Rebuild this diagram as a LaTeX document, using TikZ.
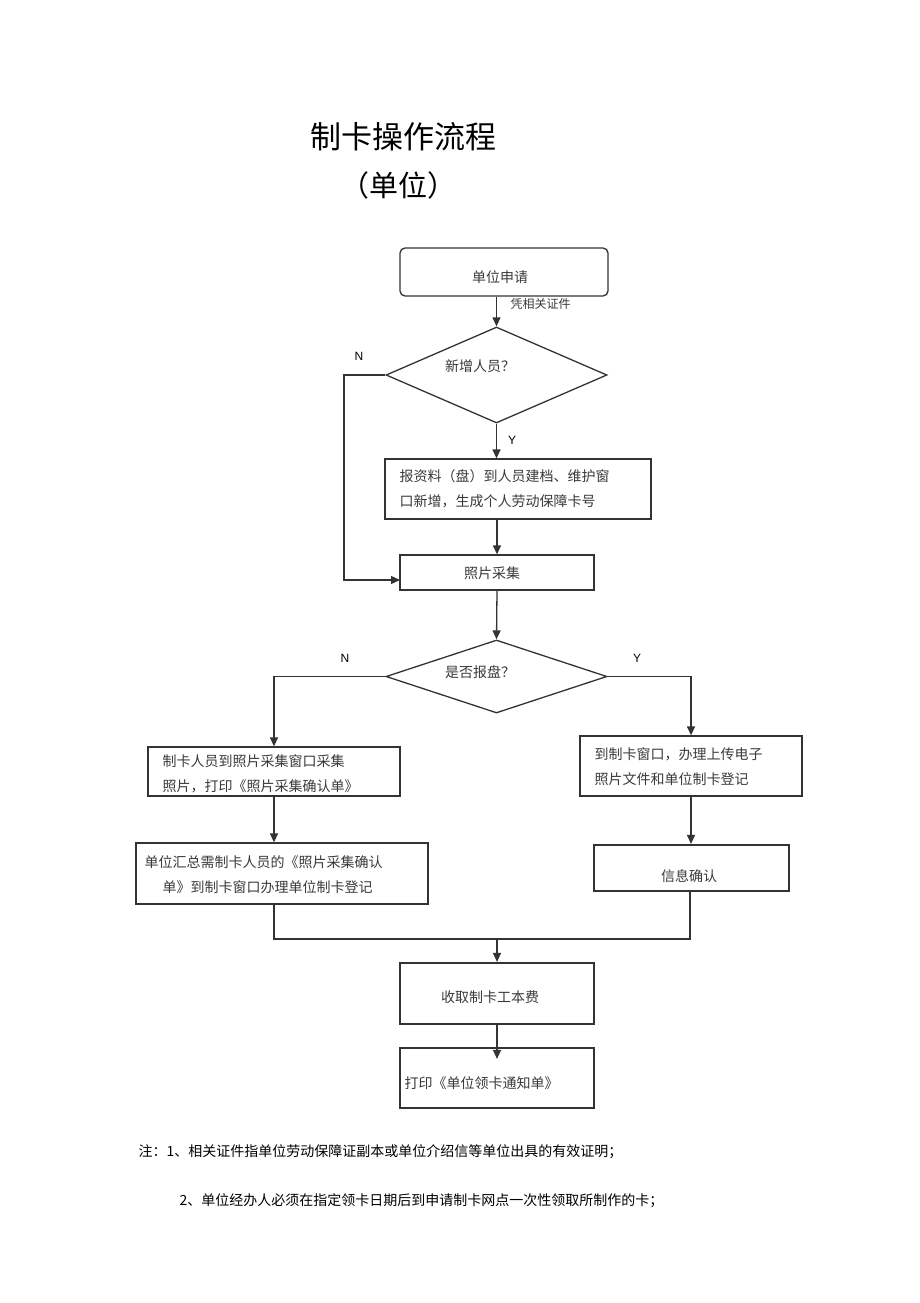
\documentclass[tikz,border=0pt]{standalone}
\usepackage{fontspec}
\usetikzlibrary{shapes.geometric,arrows.meta}
\newfontfamily\cjk{Noto Sans CJK SC}
\newfontfamily\lat{Liberation Sans}
\definecolor{ln}{HTML}{333333}
\definecolor{tx}{HTML}{3A3A3A}
\tikzset{
  every node/.style={font=\cjk},
  box/.style={draw=ln, line width=1.3pt, rectangle, inner sep=0pt},
  heavybox/.style={draw=ln, line width=2.2pt, rectangle, inner sep=0pt},
  dia/.style={draw=ln, line width=1.3pt, diamond, inner sep=0pt},
  btxt/.style={text=tx, font=\cjk\fontsize{14}{25}\selectfont},
  yn/.style={font=\lat\fontsize{12}{14}\selectfont, text=black},
  conn/.style={draw=ln, line width=1.3pt},
  arr/.style={conn, -{Triangle[length=9pt,width=8pt]}},
}
\begin{document}
\begin{tikzpicture}[x=1pt,y=-1pt]
\useasboundingbox[fill=white] (0,0) rectangle (920,1303);

% title
\node[font=\cjk\fontsize{31}{31}\selectfont] (title) at (403,137) {制卡操作流程};
\node[font=\cjk\fontsize{29}{29}\selectfont] (sub) at (398,185) {（单位）};

% nodes
\node[box, rounded corners=5pt, minimum width=208pt, minimum height=48pt] (apply) at (504,272) {};
\node[btxt] (applyt) at (500,277) {单位申请};
\node[text=tx, font=\cjk\fontsize{12}{14}\selectfont, anchor=west] (cert) at (507,304) {凭相关证件};

\node[dia, minimum width=221pt, minimum height=96pt] (d1) at (496.5,375) {};
\node[btxt] (d1t) at (480,366) {新增人员？};
\node[yn] (n1) at (359,356) {N};
\node[yn] (y1) at (512,440) {Y};

\node[box, minimum width=266pt, minimum height=60pt] (b2) at (518,489) {};
\node[btxt, align=left, anchor=west] (b2t) at (396,488.5) {报资料（盘）到人员建档、维护窗\\口新增，生成个人劳动保障卡号};

\node[box, minimum width=194pt, minimum height=35pt] (b3) at (497,572.5) {};
\node[btxt] (b3t) at (492,573) {照片采集};

\node[dia, minimum width=221pt, minimum height=73pt] (d2) at (496.5,676.5) {};
\node[btxt] (d2t) at (480,672) {是否报盘？};
\node[yn] (n2) at (345,658) {N};
\node[yn] (y2) at (637,658) {Y};

\node[box, minimum width=252pt, minimum height=49pt] (L1) at (274,771.5) {};
\node[btxt, align=left, anchor=west] (L1t) at (159,774) {制卡人员到照片采集窗口采集\\照片，打印《照片采集确认单》};

\node[box, minimum width=222pt, minimum height=60pt] (R1) at (691,766) {};
\node[btxt, align=left, anchor=west] (R1t) at (591,766.5) {到制卡窗口，办理上传电子\\照片文件和单位制卡登记};

\node[box, minimum width=292pt, minimum height=61pt] (L2) at (282,873.5) {};
\node[btxt, align=left, anchor=west] (L2t) at (141,874.5) {单位汇总需制卡人员的《照片采集确认\\\hspace*{18pt}单》到制卡窗口办理单位制卡登记};

\node[heavybox, minimum width=195pt, minimum height=46pt] (R2) at (691.5,868) {};
\node[btxt] (R2t) at (689,876) {信息确认};

\node[heavybox, minimum width=194pt, minimum height=61pt] (fee) at (497,993.5) {};
\node[btxt] (feet) at (490,997) {收取制卡工本费};

\node[heavybox, minimum width=194pt, minimum height=60pt] (print) at (497,1078) {};
\node[btxt, anchor=west] (printt) at (401,1083) {打印《单位领卡通知单》};

% notes
\node[font=\cjk\fontsize{14}{16}\selectfont, anchor=west] (note1) at (135,1152) {注：1、相关证件指单位劳动保障证副本或单位介绍信等单位出具的有效证明；};
\node[font=\cjk\fontsize{14}{16}\selectfont, anchor=west] (note2) at (176,1201) {2、单位经办人必须在指定领卡日期后到申请制卡网点一次性领取所制作的卡；};

% connectors
\coordinate (nIn) at (400,580);
\coordinate (nCorner) at (344,580);
\coordinate (mergeL) at (274,939);
\coordinate (mergeR) at (690,939);
\coordinate (mergeM) at (497,939);

\draw[arr] (apply.south -| d1.north) -- (d1.north);
\draw[arr] (d1.west) -| (nCorner) -- (nIn);
\draw[arr] (d1.south) -- (d1.south |- b2.north);
\draw[arr] (b2.south -| b3.north) -- (b3.north);
\draw[arr] (b3.south) -- (d2.north);
\draw[arr] (d2.west) -| (L1.north);
\draw[arr] (d2.east) -| (R1.north);
\draw[arr] (L1.south) -- (L1.south |- L2.north);
\draw[arr] (R1.south) -- (R1.south |- R2.north);
\draw[conn] (L1.south |- L2.south) -- (mergeL) -- (mergeR) -- (mergeR |- R2.south);
\draw[arr] (mergeM) -- (fee.north);
\draw[arr, shorten >=-12pt] (fee.south) -- (print.north);
\end{tikzpicture}
\end{document}
